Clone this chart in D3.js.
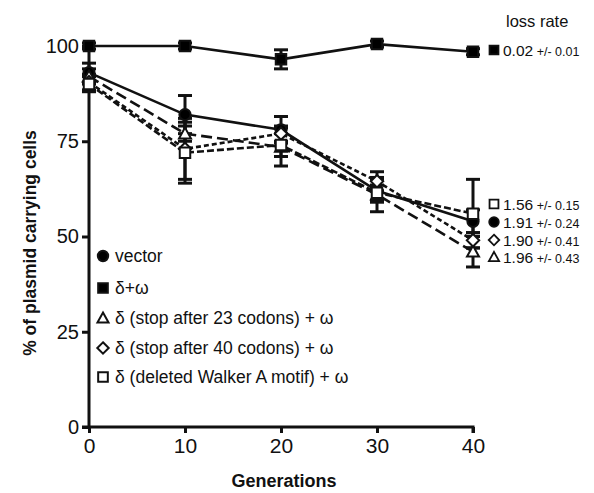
<!DOCTYPE html>
<html><head><meta charset="utf-8">
<script src="https://cdn.jsdelivr.net/npm/d3@7"></script>
<style>body{margin:0;background:#fff}svg{display:block;font-family:"Liberation Sans",Arial,sans-serif}</style>
</head><body><svg id="c" width="594" height="493"></svg>
<script>
const generations = [0, 10, 20, 30, 40];
const yTicks = [0, 25, 50, 75, 100];
const seriesNames = ["vector", "δ+ω", "δ (stop after 23 codons) + ω", "δ (stop after 40 codons) + ω", "δ (deleted Walker A motif) + ω"];
const vectorVals = [93, 82, 78, 62, 54];
const vectorErr = [2.5, 5, 3.5, 3, 3];
const dwVals = [100, 100, 96.5, 100.5, 98.5];
const dwErr = [0.8, 0.8, 2.5, 0.8, 0.8];
const stop23Vals = [92, 77, 73.5, 61, 46];
const stop23Err = [2, 2, 5, 4.5, 4];
const stop40Vals = [90.5, 73, 77, 64.5, 49];
const stop40Err = [2, 8, 2, 2.5, 2];
const walkerVals = [90, 72, 74, 61.5, 56];
const walkerErr = [2, 8, 3, 2, 9];
const lossRates = ["1.91", "0.02", "1.96", "1.90", "1.56"];
const lossErrs = ["0.24", "0.01", "0.43", "0.41", "0.15"];

const svg = d3.select("#c");
const x = d3.scaleLinear().domain([0, 40]).range([89, 473]);
const y = d3.scaleLinear().domain([0, 100]).range([427, 46]);

const series = [
  {vals: vectorVals, err: vectorErr, sym: "circle", fill: "#000", dash: null},
  {vals: dwVals, err: dwErr, sym: "square", fill: "#000", dash: null},
  {vals: stop23Vals, err: stop23Err, sym: "triangle", fill: "#fff", dash: "11,5"},
  {vals: stop40Vals, err: stop40Err, sym: "diamond", fill: "#fff", dash: "5,3"},
  {vals: walkerVals, err: walkerErr, sym: "square", fill: "#fff", dash: "7,3"}
];

function symPath(s, k) {
  if (s === "diamond") { const r = 6.2 * k; return `M0,${-r}L${r},0L0,${r}L${-r},0Z`; }
  if (s === "triangle") { const r = 6 * k; return `M0,${-r}L${r * 1.0},${r * 0.8}L${-r * 1.0},${r * 0.8}Z`; }
  const t = {circle: d3.symbolCircle, square: d3.symbolSquare}[s];
  const size = {circle: 100, square: 110}[s];
  return d3.symbol().type(t).size(size * k * k)();
}

// axes
const yAxis = d3.axisLeft(y).tickValues(yTicks).tickSize(7).tickPadding(3);
const gy = svg.append("g").attr("transform", "translate(89,0)").call(yAxis);
const xAxis = d3.axisBottom(x).tickValues(generations).tickSize(6).tickPadding(5);
const gx = svg.append("g").attr("transform", "translate(0,427)").call(xAxis);
[gy, gx].forEach(g => {
  g.select(".domain").attr("stroke-width", 3).attr("stroke", "#111");
  g.selectAll(".tick line").attr("stroke-width", 3).attr("stroke", "#111");
  g.selectAll(".tick text").attr("fill", "#111").attr("font-family", "Liberation Sans, Arial, sans-serif");
});
gy.selectAll(".tick text").attr("font-size", 20);
gx.selectAll(".tick text").attr("font-size", 21);
gy.select(".domain").attr("d", "M-7," + y(100) + "H0V" + y(0) + "H-7");
gx.select(".domain").attr("d", "M" + x(0) + ",0H" + x(40) + "V6");

// lines
series.forEach(s => {
  const line = d3.line().x((d, i) => x(generations[i])).y(d => y(d));
  svg.append("path").attr("d", line(s.vals)).attr("fill", "none").attr("stroke", "#111")
    .attr("stroke-width", 2.6).attr("stroke-dasharray", s.dash);
});
// error bars
series.forEach(s => {
  s.vals.forEach((v, i) => {
    const cx = x(generations[i]);
    const g = svg.append("g").attr("stroke", "#111").attr("stroke-width", 3);
    g.append("line").attr("x1", cx).attr("x2", cx).attr("y1", y(v + s.err[i])).attr("y2", y(v - s.err[i]));
    [v + s.err[i], v - s.err[i]].forEach(e => g.append("line").attr("x1", cx - 7).attr("x2", cx + 7).attr("y1", y(e)).attr("y2", y(e)));
  });
});
// markers
series.forEach(s => {
  s.vals.forEach((v, i) => {
    svg.append("path").attr("d", symPath(s.sym, 1))
      .attr("transform", `translate(${x(generations[i])},${y(v)})`)
      .attr("fill", s.fill).attr("stroke", "#111").attr("stroke-width", 2);
  });
});

// legend
const legY = [256, 288, 318, 348, 377];
series.forEach((s, i) => {
  svg.append("path").attr("d", symPath(s.sym, 0.92))
    .attr("transform", `translate(103,${legY[i]})`)
    .attr("fill", s.fill).attr("stroke", "#111").attr("stroke-width", 2);
  svg.append("text").attr("x", 115).attr("y", legY[i] + 6).attr("font-size", 17.5).attr("fill", "#111").text(seriesNames[i]);
});

// loss rates
svg.append("text").attr("x", 506).attr("y", 27).attr("font-size", 16.5).attr("fill", "#111").text("loss rate");
const lossY = [222, 50, 257, 240, 204];
series.forEach((s, i) => {
  svg.append("path").attr("d", symPath(s.sym, 0.85))
    .attr("transform", `translate(494,${lossY[i]})`)
    .attr("fill", s.fill).attr("stroke", "#111").attr("stroke-width", 1.8);
  const t = svg.append("text").attr("x", 503).attr("y", lossY[i] + 5.5).attr("fill", "#111");
  t.append("tspan").attr("font-size", 15.5).text(lossRates[i]);
  t.append("tspan").attr("font-size", 12.5).text(" +/- " + lossErrs[i]);
});

// axis titles
svg.append("text").attr("x", 284).attr("y", 487).attr("text-anchor", "middle").attr("font-size", 18)
  .attr("font-weight", "bold").attr("fill", "#111").text("Generations");
svg.append("text").attr("transform", "translate(36,243) rotate(-90)").attr("text-anchor", "middle")
  .attr("font-size", 17.5).attr("font-weight", "bold").attr("fill", "#111").text("% of plasmid carrying cells");
</script></body></html>
